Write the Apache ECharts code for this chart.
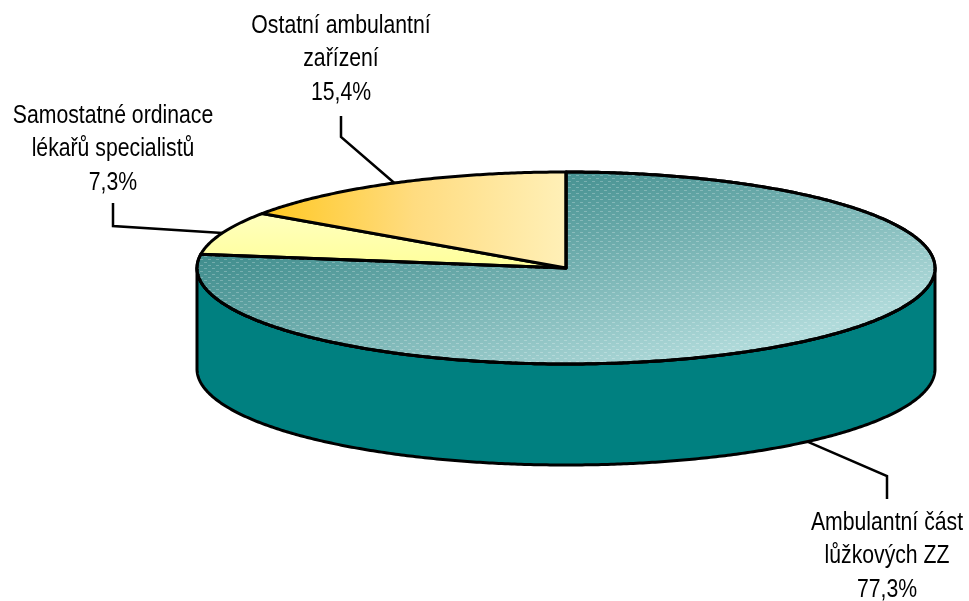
<!DOCTYPE html>
<html>
<head>
<meta charset="utf-8">
<script src="https://cdn.jsdelivr.net/npm/echarts@6/dist/echarts.min.js"></script>
<style>
  html, body { margin: 0; padding: 0; background: #fff; }
  #chart { width: 969px; height: 601px; }
</style>
</head>
<body>
<div id="chart"></div>
<script>
// data, clockwise from 12 o'clock
var categories = ['Ambulantní část\nlůžkových ZZ', 'Samostatné ordinace\nlékařů specialistů', 'Ostatní ambulantní\nzařízení'];
var values = [77.3, 7.3, 15.4];
var valueLabels = ['77,3%', '7,3%', '15,4%'];

// layout of the tilted pie, pixels
var CX = 566, CY = 268, RX = 369, RY = 96, DEPTH = 101;
var labelX = [887, 113, 341];
var labelTop = [506, 99, 9];
var elbow = [[887, 476], [113, 226], [341, 137]];
var lineEnd = [[887, 499], [113, 203], [341, 116]];

var sideColor = '#008080';
var topFills = [
  new echarts.graphic.LinearGradient(538, 164, 598, 387, [
    { offset: 0, color: '#3e8c8c' }, { offset: 1, color: '#b0dada' }
  ], true),
  new echarts.graphic.LinearGradient(0, 0, 0, 1, [
    { offset: 0, color: '#ffffc0' }, { offset: 1, color: '#ffff99' }
  ]),
  new echarts.graphic.LinearGradient(0, 0, 1, 0, [
    { offset: 0, color: '#ffc71f' }, { offset: 0.5, color: '#ffdc80' }, { offset: 1, color: '#fff0b8' }
  ])
];

// dotted texture on the big slice
function makeDots() {
  var c = document.createElement('canvas');
  c.width = 8; c.height = 6;
  var g = c.getContext('2d');
  g.fillStyle = 'rgba(255,255,255,0.25)';
  g.fillRect(0, 1, 3, 1);
  g.fillRect(4, 4, 3, 1);
  return c;
}
var dots = { image: makeDots(), repeat: 'repeat' };

function rim(deg, dy) {
  var a = deg * Math.PI / 180;
  return [CX + RX * Math.sin(a), CY - RY * Math.cos(a) + (dy || 0)];
}

function arcPoints(from, to, dy) {
  var pts = [];
  var n = Math.max(2, Math.ceil((to - from) * 2));
  for (var i = 0; i <= n; i++) {
    pts.push(rim(from + (to - from) * i / n, dy));
  }
  return pts;
}

var total = values.reduce(function (s, v) { return s + v; }, 0);
var starts = [];
values.reduce(function (s, v, i) { starts[i] = s; return s + v; }, 0);

function renderSlice(params, api) {
  var i = params.dataIndex;
  var from = starts[i] / total * 360;
  var to = from + api.value(0) / total * 360;
  var mid = (from + to) / 2;
  var children = [];
  var edge = { stroke: '#000', lineWidth: 3, lineJoin: 'round' };

  // wall: only the front half of the rim shows
  var a = Math.max(from, 90), b = Math.min(to, 270);
  if (b > a) {
    var wall = arcPoints(a, b, 0).concat(arcPoints(a, b, DEPTH).reverse());
    children.push({
      type: 'polygon', shape: { points: wall },
      style: Object.assign({ fill: sideColor }, edge)
    });
  }

  var face = [[CX, CY]].concat(arcPoints(from, to, 0));
  children.push({
    type: 'polygon', z2: 2, shape: { points: face },
    style: Object.assign({ fill: topFills[i] }, edge)
  });
  if (i === 0) {
    children.push({
      type: 'polygon', z2: 3, shape: { points: face },
      style: Object.assign({ fill: dots }, edge)
    });
  }

  // leader line from the rim to the label
  var onWall = mid > 90 && mid < 270;
  children.push({
    type: 'polyline', z2: 4,
    shape: { points: [rim(mid, onWall ? DEPTH : 0), elbow[i], lineEnd[i]] },
    style: { fill: null, stroke: '#000', lineWidth: 2.5 }
  });

  // the reference text is Arial squeezed sideways
  children.push({
    type: 'text', z2: 5,
    x: labelX[i], y: labelTop[i],
    scaleX: 0.816,
    style: {
      text: categories[i] + '\n' + valueLabels[i],
      fill: '#000',
      font: '26px "Liberation Sans", Arial, sans-serif',
      lineHeight: 33.5,
      align: 'center',
      verticalAlign: 'top'
    }
  });
  return { type: 'group', children: children };
}

var chart = echarts.init(document.getElementById('chart'));
chart.setOption({
  animation: false,
  backgroundColor: '#fff',
  series: [{
    type: 'custom',
    coordinateSystem: 'none',
    renderItem: renderSlice,
    encode: { value: 0 },
    data: values.map(function (v) { return [v]; })
  }]
});
</script>
</body>
</html>
